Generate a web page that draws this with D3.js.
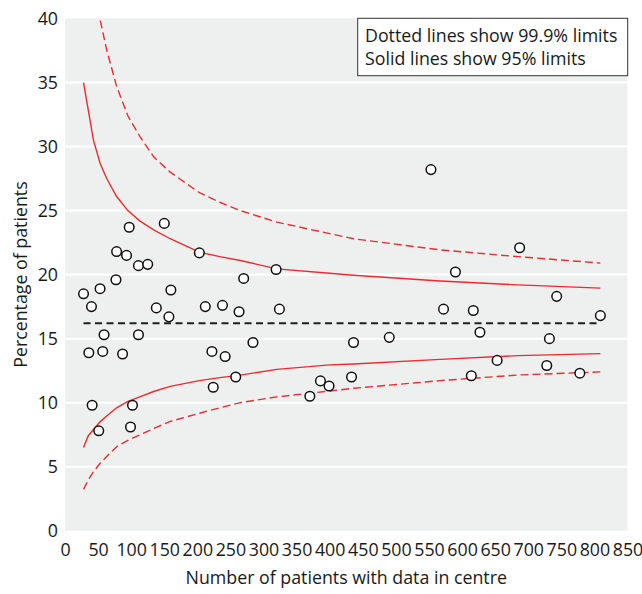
<!DOCTYPE html>
<html>
<head>
<meta charset="utf-8">
<script src="https://cdn.jsdelivr.net/npm/d3@7"></script>
<style>
  body { margin: 0; background: #fff; }
  text { font-family: "Open Sans", "Noto Sans", sans-serif; fill: #1a1a1a; }
</style>
</head>
<body>
<svg id="chart" width="642" height="594"></svg>
<script>
// Patients with data in each centre, and the percentage recorded for that centre
const centreN = [28, 40, 36, 41, 53, 51, 59, 57, 78, 77, 87, 93, 97, 102, 99, 111, 111, 125, 138, 150,
  157, 160, 203, 212, 222, 224, 238, 242, 258, 263, 270, 284, 319, 324, 370, 386, 399, 433, 436, 490,
  553, 572, 590, 614, 617, 627, 653, 687, 728, 732, 743, 778, 809];
const centrePct = [18.5, 17.5, 13.9, 9.8, 18.9, 7.8, 15.3, 14.0, 21.8, 19.6, 13.8, 21.5, 23.7, 9.8, 8.1, 20.7, 15.3, 20.8, 17.4, 24.0,
  16.7, 18.8, 21.7, 17.5, 14.0, 11.2, 17.6, 13.6, 12.0, 17.1, 19.7, 14.7, 20.4, 17.3, 10.5, 11.7, 11.3, 12.0, 14.7, 15.1,
  28.2, 17.3, 20.2, 12.1, 17.2, 15.5, 13.3, 22.1, 12.9, 15.0, 18.3, 12.3, 16.8];

// Overall percentage across all centres
const overallPct = 16.2;

// Funnel limits, evaluated at these centre sizes
const limitN = [28, 35, 43, 53, 63, 78, 95, 113, 134, 159, 203, 234, 265, 320, 400, 436, 567, 685, 809];
const upper95 = [35.0, 32.9, 30.5, 28.7, 27.5, 26.1, 25.0, 24.2, 23.5, 22.8, 21.75, 21.4, 21.1, 20.45, 20.1, 19.95, 19.5, 19.2, 18.94];
const lower95 = [6.5, 7.4, 7.9, 8.5, 8.95, 9.6, 10.1, 10.45, 10.87, 11.27, 11.72, 11.95, 12.15, 12.6, 12.95, 13.02, 13.38, 13.67, 13.83];
const upper999 = [51.0, 47.5, 43.5, 39.9, 37.55, 34.7, 32.4, 30.8, 29.2, 28.0, 26.4, 25.65, 25.0, 24.1, 23.2, 22.8, 21.93, 21.4, 20.9];
const lower999 = [3.23, 3.95, 4.6, 5.27, 5.8, 6.56, 7.05, 7.48, 7.98, 8.53, 9.17, 9.6, 10.0, 10.45, 10.91, 11.12, 11.72, 12.16, 12.4];

// Axis ticks
const xTicks = [0, 50, 100, 150, 200, 250, 300, 350, 400, 450, 500, 550, 600, 650, 700, 750, 800, 850];
const yTicks = [0, 5, 10, 15, 20, 25, 30, 35, 40];

const legendLines = ["Dotted lines show 99.9% limits", "Solid lines show 95% limits"];
const xTitle = "Number of patients with data in centre";
const yTitle = "Percentage of patients";

const svg = d3.select("#chart");
const plot = { left: 65, right: 627.5, top: 18.5, bottom: 530.7 };

const x = d3.scaleLinear().domain([0, 850]).range([plot.left, plot.right]);
const y = d3.scaleLinear().domain([0, 40]).range([plot.bottom, plot.top]);

// Panel background
svg.append("rect")
  .attr("x", plot.left).attr("y", plot.top)
  .attr("width", plot.right - plot.left).attr("height", plot.bottom - plot.top)
  .attr("fill", "#eef0ef");

svg.append("clipPath").attr("id", "panel-clip")
  .append("rect")
  .attr("x", plot.left).attr("y", plot.top)
  .attr("width", plot.right - plot.left).attr("height", plot.bottom - plot.top);

// Horizontal gridlines
svg.append("g").selectAll("line")
  .data(yTicks.filter(t => t > 0 && t < 40))
  .join("line")
  .attr("x1", plot.left).attr("x2", plot.right)
  .attr("y1", d => y(d)).attr("y2", d => y(d))
  .attr("stroke", "#ffffff").attr("stroke-width", 2);

// Axes
const yAxis = svg.append("g")
  .attr("transform", `translate(${plot.left},0)`)
  .call(d3.axisLeft(y).tickValues(yTicks).tickSize(0).tickPadding(7).tickFormat(d3.format("d")));
yAxis.select(".domain").remove();
yAxis.selectAll("text").style("font-size", "17.8px").style("font-family", "\"Open Sans\", sans-serif").attr("fill", "#1a1a1a");

const xAxis = svg.append("g")
  .attr("transform", `translate(0,${plot.bottom})`)
  .call(d3.axisBottom(x).tickValues(xTicks).tickSize(0).tickPadding(12.5).tickFormat(d3.format("d")));
xAxis.select(".domain").remove();
xAxis.selectAll("text").style("font-size", "17.8px").style("font-family", "\"Open Sans\", sans-serif").attr("fill", "#1a1a1a");

// Axis titles
svg.append("text")
  .attr("x", (plot.left + plot.right) / 2).attr("y", 584)
  .attr("text-anchor", "middle")
  .style("font-size", "17.8px")
  .text(xTitle);

svg.append("text")
  .attr("transform", `translate(27,${(plot.top + plot.bottom) / 2}) rotate(-90)`)
  .attr("text-anchor", "middle")
  .style("font-size", "17.8px")
  .text(yTitle);

// Funnel limit curves
const limitLine = d3.line()
  .x(d => x(d[0]))
  .y(d => y(d[1]));

const curves = svg.append("g").attr("clip-path", "url(#panel-clip)");
const red = "#ee2a2e";

[[upper95, null], [lower95, null], [upper999, "8,4"], [lower999, "8,4"]].forEach(([vals, dash]) => {
  curves.append("path")
    .datum(limitN.map((n, i) => [n, vals[i]]))
    .attr("d", limitLine)
    .attr("fill", "none")
    .attr("stroke", red)
    .attr("stroke-width", 1.4)
    .attr("stroke-dasharray", dash);
});

// Overall percentage reference line
svg.append("line")
  .attr("x1", x(d3.min(centreN))).attr("x2", x(d3.max(centreN)))
  .attr("y1", y(overallPct)).attr("y2", y(overallPct))
  .attr("stroke", "#1e1e1e").attr("stroke-width", 2.2)
  .attr("stroke-dasharray", "7,4.5");

// Centres
svg.append("g").selectAll("circle")
  .data(centreN.map((n, i) => ({ n, p: centrePct[i] })))
  .join("circle")
  .attr("cx", d => x(d.n)).attr("cy", d => y(d.p))
  .attr("r", 4.8)
  .attr("fill", "#ffffff")
  .attr("stroke", "#111111")
  .attr("stroke-width", 1.5);

// Legend
const legend = svg.append("g");
legend.append("rect")
  .attr("x", 357.7).attr("y", 18.3)
  .attr("width", 270).attr("height", 57.4)
  .attr("fill", "#ffffff")
  .attr("stroke", "#333333").attr("stroke-width", 1);
legend.selectAll("text")
  .data(legendLines)
  .join("text")
  .attr("x", 365)
  .attr("y", (d, i) => 41.7 + i * 23.3)
  .style("font-size", "17.8px")
  .text(d => d);
</script>
</body>
</html>
